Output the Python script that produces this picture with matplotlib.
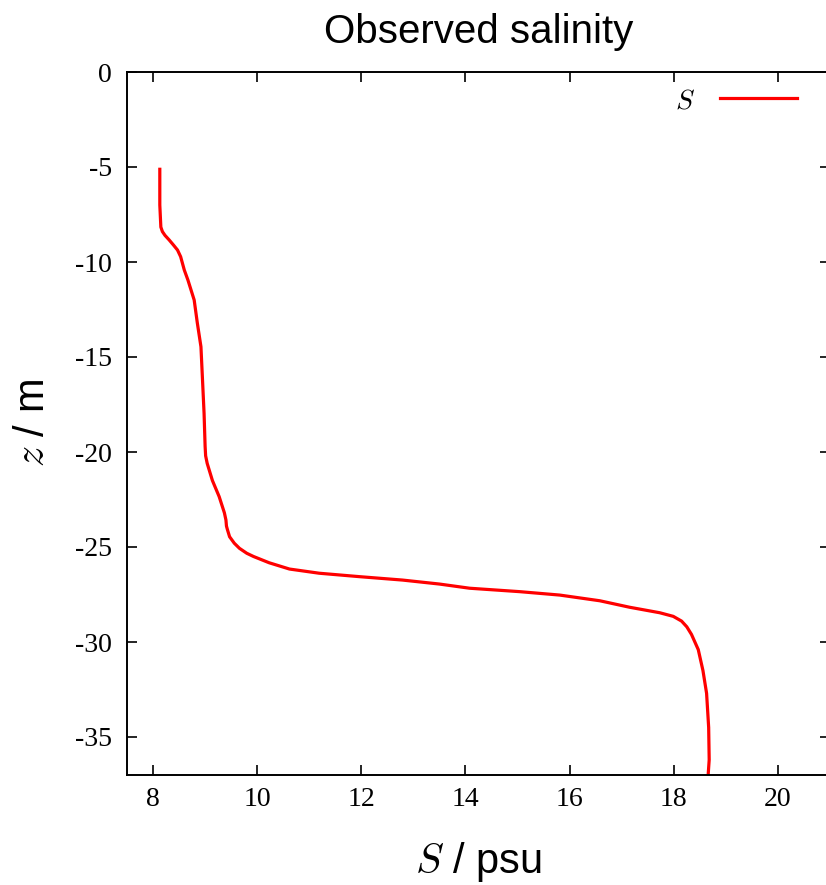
import matplotlib
matplotlib.use("Agg")
import matplotlib.pyplot as plt

# observed salinity profile
depth = [-5.12, -6.0, -7.0, -8.16, -8.4, -8.6, -8.84, -9.1, -9.37, -9.72,
         -10.42, -10.95, -12.0, -13.2, -14.46, -16.2, -17.96, -19.7, -20.2,
         -20.6, -21.5, -22.35, -23.2, -23.58, -23.9, -24.1, -24.46, -24.8,
         -25.07, -25.33, -25.5, -25.83, -26.16, -26.38, -26.56, -26.74,
         -26.95, -27.17, -27.35, -27.53, -27.83, -28.17, -28.46, -28.65,
         -28.9, -29.2, -29.6, -30.4, -31.5, -32.7, -34.5, -36.2, -37.0]
salinity = [8.13, 8.13, 8.13, 8.15, 8.18, 8.23, 8.31, 8.39, 8.47, 8.53,
            8.60, 8.67, 8.79, 8.85, 8.92, 8.95, 8.98, 9.00, 9.01,
            9.04, 9.14, 9.27, 9.37, 9.40, 9.41, 9.43, 9.47, 9.56,
            9.66, 9.80, 9.93, 10.23, 10.62, 11.19, 11.96, 12.79,
            13.5, 14.08, 15.04, 15.81, 16.58, 17.15, 17.73, 17.99,
            18.15, 18.25, 18.34, 18.47, 18.56, 18.63, 18.67, 18.68, 18.66]

xticks = [8, 10, 12, 14, 16, 18, 20]
yticks = [0, -5, -10, -15, -20, -25, -30, -35]

plt.rcParams['font.family'] = 'Liberation Sans'
plt.rcParams['mathtext.fontset'] = 'cm'

fig = plt.figure(figsize=(8.26, 8.85), dpi=100)
ax = fig.add_axes([127 / 826, 1 - 775 / 885, (830 - 127) / 826, (775 - 72) / 885])

ax.plot(salinity, depth, color='red', lw=2.3, label='$S$')

ax.set_xlim(7.5, 21)
ax.set_ylim(-37, 0)
ax.set_xticks(xticks)
ax.set_yticks(yticks)
ax.set_xticklabels([str(t) for t in xticks], family='Liberation Serif', fontsize=20)
ax.set_yticklabels([str(t) for t in yticks], family='Liberation Serif', fontsize=20)
ax.tick_params(axis='both', direction='in', length=7, width=1.2,
               top=True, right=True)
ax.tick_params(axis='x', pad=9)
ax.tick_params(axis='y', pad=11)
for sp in ax.spines.values():
    sp.set_linewidth(1.4)

ax.set_title('Observed salinity', fontsize=29, pad=21)
ax.set_xlabel('$S$ / psu', fontsize=30, labelpad=20)
ax.set_ylabel('$z$ / m', fontsize=30, labelpad=16)

ax.legend(loc='upper right', bbox_to_anchor=(0.969, 0.993), frameon=False,
          markerfirst=False, handlelength=2.77, handletextpad=0.9,
          fontsize=20, borderaxespad=0)

fig.savefig('out.png', dpi=100)
